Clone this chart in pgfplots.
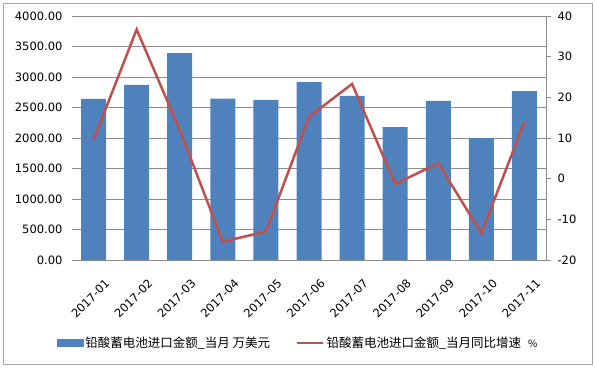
\documentclass[border=0pt]{standalone}
\usepackage{pgfplots}
\pgfplotsset{compat=1.18}
\usepackage{fontspec}
\setmainfont{DejaVu Sans}
\newfontfamily\cjk{Noto Sans CJK SC}
\definecolor{barblue}{HTML}{4F81BD}
\definecolor{linered}{HTML}{C0504D}
\definecolor{gridgray}{HTML}{8C8C8C}
\begin{document}
\begin{tikzpicture}
\useasboundingbox (0pt,0pt) rectangle (596pt,367pt);
\draw[gridgray!80, line width=1pt] (3pt,3pt) rectangle (592pt,363pt);
\begin{axis}[
  at={(72pt,107pt)}, anchor=south west,
  scale only axis, width=474pt, height=244pt,
  xmin=-0.5, xmax=10.5, ymin=0, ymax=4000,
  ytick distance=500,
  xtick={0,...,10},
  xticklabels={2017-01,2017-02,2017-03,2017-04,2017-05,2017-06,2017-07,2017-08,2017-09,2017-10,2017-11},
  axis x line*=bottom, axis y line*=left,
  y axis line style={draw=none},
  x axis line style={draw=gridgray, line width=0.8pt, -},
  xtick style={draw=none}, ytick style={draw=none},
  ymajorgrids, grid style={gridgray, line width=0.8pt},
  y tick label style={/pgf/number format/fixed, /pgf/number format/fixed zerofill, /pgf/number format/precision=2, /pgf/number format/1000 sep={}, /pgf/number format/assume math mode=true, xshift=-6pt},
  tick label style={font=\fontsize{11.5}{13}\selectfont, text=black},
  xticklabel style={rotate=45, anchor=east, xshift=-2pt, yshift=-25pt, font=\fontsize{11.5}{13}\selectfont},
]
\addplot[ybar, bar width=25pt, fill=barblue, draw=none] coordinates {
(0,2640) (1,2870) (2,3393) (3,2645) (4,2625) (5,2918) (6,2690) (7,2180) (8,2607) (9,2000) (10,2770)};
\end{axis}
\begin{axis}[
  at={(72pt,107pt)}, anchor=south west,
  scale only axis, width=474pt, height=244pt,
  xmin=-0.5, xmax=10.5, ymin=-20, ymax=40,
  ytick distance=10,
  axis x line=none, axis y line*=right,
  y axis line style={draw=gridgray, line width=0.8pt, -},
  ytick style={draw=gridgray, line width=0.8pt},
  tick align=outside, major tick length=5pt,
  yticklabel style={/pgf/number format/assume math mode=true, font=\fontsize{11.5}{13}\selectfont, text=black, xshift=3pt},
  legend columns=2,
  legend style={draw=none, fill=none, at={(0.477,-0.34)}, anchor=center, font=\cjk\fontsize{12.5}{15}\selectfont,
    /tikz/every even column/.append style={column sep=24pt}},
]
\addlegendimage{legend image code/.code={\fill[barblue] (0pt,-3.5pt) rectangle (26pt,3.5pt);}}
\addlegendentry{铅酸蓄电池进口金额\_当月 万美元}
\addplot[linered, line width=2.5pt, mark=none,
  legend image code/.code={\draw[linered, line width=2.5pt] (0pt,0pt) -- (26pt,0pt);}] coordinates {
(0,9.5) (1,36.7) (2,12) (3,-15.5) (4,-13.0) (5,15.2) (6,23.3) (7,-1.3) (8,3.8) (9,-13.4) (10,14.0)};
\addlegendentry{铅酸蓄电池进口金额\_当月同比增速\hspace{7pt}{\fontsize{10}{12}\selectfont\%}}
\end{axis}
\end{tikzpicture}
\end{document}
